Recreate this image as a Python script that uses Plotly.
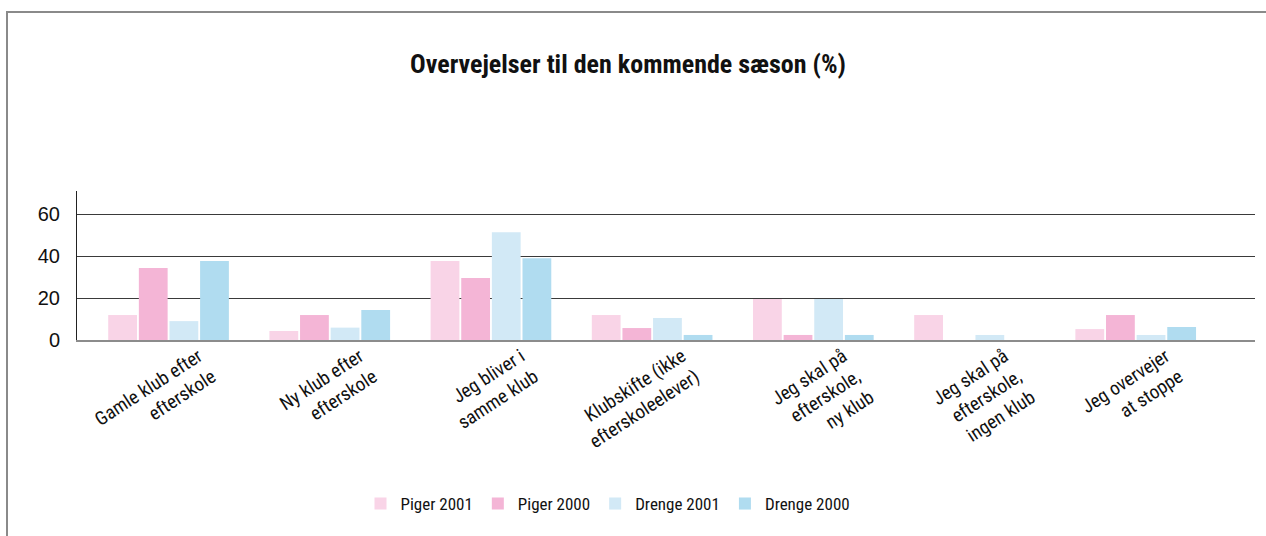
import plotly.graph_objects as go

categories = [
    "Gamle klub efter<br>efterskole",
    "Ny klub efter<br>efterskole",
    "Jeg bliver i<br>samme klub",
    "Klubskifte (ikke<br>efterskoleelever)",
    "Jeg skal på<br>efterskole,<br>ny klub",
    "Jeg skal på<br>efterskole,<br>ingen klub",
    "Jeg overvejer<br>at stoppe",
]
series_names = ["Piger 2001", "Piger 2000", "Drenge 2001", "Drenge 2000"]
piger_2001 = [11.9, 4.3, 37.6, 11.9, 19.5, 11.9, 5.2]
piger_2000 = [34.3, 11.9, 29.5, 5.7, 2.4, 0, 11.9]
drenge_2001 = [9.0, 5.9, 51.4, 10.5, 19.5, 2.4, 2.4]
drenge_2000 = [37.6, 14.3, 39.0, 2.4, 2.4, 0, 6.2]
y_ticks = [0, 20, 40, 60]

colors = ["#f9d4e7", "#f4b5d6", "#d2e9f6", "#b0dcf0"]
values = [piger_2001, piger_2000, drenge_2001, drenge_2000]

FONT = "Liberation Sans Narrow, Roboto Condensed, DejaVu Sans Condensed, Arial Narrow, Liberation Sans, sans-serif"

fig = go.Figure()
xs = list(range(len(categories)))
for name, vals, c in zip(series_names, values, colors):
    fig.add_trace(go.Bar(x=xs, y=vals, name=name, marker=dict(color=c, line=dict(width=0))))

W, H = 1266, 536
L, R, T, B = 77, 11, 191, 196
pw = W - L - R
ph = H - T - B

def px_x(p):
    return (p - L) / pw

def px_y(p):
    return (H - B - p) / ph

fig.update_layout(
    width=W, height=H,
    margin=dict(l=L, r=R, t=T, b=B, autoexpand=False),
    paper_bgcolor="white", plot_bgcolor="white",
    barmode="group", bargap=0.24, bargroupgap=0.06,
    title=dict(text="<b>Overvejelser til den kommende sæson (%)</b>",
               x=628 / W, xanchor="center", y=1 - 64 / H, yanchor="middle",
               font=dict(family=FONT, size=26, color="#111")),
    xaxis=dict(tickmode="array", tickvals=xs, ticktext=categories,
               range=[-0.568, 6.74], tickangle=-33,
               showline=True, linecolor="#8c8c8c", linewidth=2,
               showgrid=False, zeroline=False, ticks="",
               ticklabelshift=30, ticklabelstandoff=-4,
               tickfont=dict(family=FONT, size=19, color="#111")),
    yaxis=dict(range=[0, 71], tickvals=y_ticks, showgrid=True, gridcolor="#3a3a3a",
               gridwidth=1, zeroline=False, showline=True, linecolor="#222", linewidth=1,
               ticks="", ticklabelstandoff=12,
               tickfont=dict(family="Liberation Sans, Arial, sans-serif", size=20, color="#111")),
    legend=dict(orientation="h", x=px_x(608), xanchor="center", y=px_y(504), yanchor="middle",
                font=dict(family=FONT, size=17, color="#111"), itemwidth=30,
                traceorder="normal"),
    showlegend=True,
)

fig.add_shape(type="path", xref="paper", yref="paper",
              path=f"M {px_x(7)},{px_y(540)} L {px_x(7)},{px_y(12)} L {px_x(1270)},{px_y(12)}",
              line=dict(color="#8a8a8a", width=2))

fig.write_html("out.html", post_script="document.body.style.margin='0';",
               config={"displayModeBar": False})
